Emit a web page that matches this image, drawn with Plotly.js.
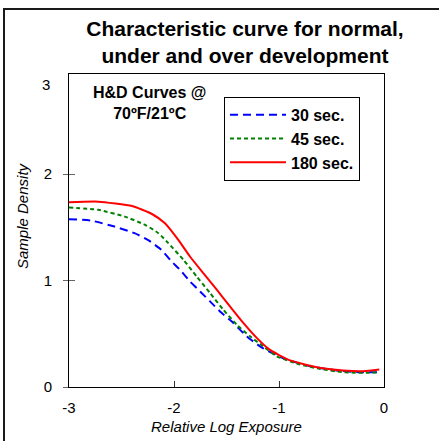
<!DOCTYPE html>
<html>
<head>
<meta charset="utf-8">
<script src="https://cdn.plot.ly/plotly-3.0.1.min.js"></script>
<style>html,body{margin:0;padding:0;background:#fff;}#chart{width:439px;height:441px;}</style>
</head>
<body>
<div id="chart"></div>
<script>
// Data
const seriesNames = ["30 sec.", "45 sec.", "180 sec."];

const x30 = [-3, -2.79, -2.567, -2.376, -2.249, -2.121, -2.022, -1.943, -1.848, -1.752, -1.657, -1.562, -1.435, -1.308, -1.181, -1.102, -0.927, -0.705, -0.45, -0.229, -0.045];
const y30 = [1.576, 1.563, 1.507, 1.445, 1.382, 1.289, 1.179, 1.101, 0.992, 0.898, 0.804, 0.71, 0.602, 0.476, 0.382, 0.336, 0.258, 0.195, 0.155, 0.139, 0.139];

const x45 = [-3, -2.72, -2.467, -2.276, -2.149, -2.054, -1.911, -1.784, -1.657, -1.53, -1.403, -1.276, -1.15, -1.022, -0.831, -0.61, -0.387, -0.165, -0.045];
const y45 = [1.685, 1.664, 1.60, 1.523, 1.445, 1.351, 1.195, 1.038, 0.883, 0.726, 0.586, 0.476, 0.382, 0.289, 0.22, 0.17, 0.139, 0.133, 0.139];

const x180 = [-3, -2.72, -2.40, -2.21, -2.086, -2.006, -1.959, -1.848, -1.721, -1.593, -1.467, -1.34, -1.212, -1.102, -1.0, -0.895, -0.641, -0.387, -0.197, -0.045];
const y180 = [1.736, 1.741, 1.70, 1.625, 1.538, 1.444, 1.382, 1.226, 1.07, 0.914, 0.757, 0.602, 0.461, 0.36, 0.30, 0.25, 0.186, 0.155, 0.148, 0.164];

const xTickVals = [-3, -2, -1, 0];
const xTickText = ["-3", "-2", "-1", "0"];
const yTickVals = [0, 1, 2];
const yTickText = ["0", "1", "2"];
const yTopLabel = "3";

const chartTitle = "Characteristic curve for normal,<br>under and over development";
const noteText = "H&D Curves @<br>70ºF/21ºC";
const xTitle = "Relative Log Exposure";
const yTitle = "Sample Density";

const FONT = "Liberation Sans, Arial, Helvetica, sans-serif";

const traces = [
  {x: x30, y: y30, name: seriesNames[0], mode: "lines", legendgroup: "a",
   line: {color: "#0000ff", width: 2, dash: "8px,5px", shape: "spline", smoothing: 0.5}},
  {x: x45, y: y45, name: seriesNames[1], mode: "lines", legendgroup: "b",
   line: {color: "#008000", width: 2, dash: "4px,3px", shape: "spline", smoothing: 0.5}},
  {x: x180, y: y180, name: seriesNames[2], mode: "lines", legendgroup: "c",
   line: {color: "#ff0000", width: 2, shape: "spline", smoothing: 0.5}},
  // invisible trace to activate overlay axis for inner tick marks
  {x: [-3], y: [0], yaxis: "y2", mode: "markers", marker: {opacity: 0}, showlegend: false, hoverinfo: "skip"}
];

const layout = {
  width: 439, height: 441,
  margin: {l: 69, r: 55, t: 74, b: 54},
  paper_bgcolor: "#ffffff", plot_bgcolor: "#ffffff",
  font: {family: FONT, color: "#000000", size: 15},
  showlegend: true,
  title: {
    text: "<b>" + chartTitle + "</b>",
    font: {family: FONT, size: 21, color: "#000000"},
    xref: "container", x: 0.558, xanchor: "center",
    yref: "container", y: 0.918, yanchor: "top"
  },
  xaxis: {
    range: [-3, 0], showgrid: false, zeroline: false,
    showline: true, linecolor: "#000000", linewidth: 1, mirror: true,
    tickmode: "array", tickvals: xTickVals, ticktext: xTickText,
    ticks: "inside", ticklen: 6, tickcolor: "#333333",
    ticklabelstandoff: 7,
    tickfont: {family: FONT, size: 15, color: "#000000"},
    title: {text: "<i>" + xTitle + "</i>", font: {family: FONT, size: 15, color: "#000000"}, standoff: 6}
  },
  yaxis: {
    range: [0, 2.94], showgrid: false, zeroline: false,
    showline: true, linecolor: "#000000", linewidth: 1, mirror: true,
    tickmode: "array", tickvals: yTickVals, ticktext: yTickText,
    ticks: "outside", ticklen: 5, tickcolor: "#666666",
    ticklabelstandoff: 8,
    tickfont: {family: FONT, size: 15, color: "#000000"}
  },
  yaxis2: {
    overlaying: "y", range: [0, 2.94], showgrid: false, zeroline: false,
    showline: false, tickmode: "array", tickvals: [1, 2],
    ticks: "inside", ticklen: 6, tickcolor: "#666666",
    showticklabels: false
  },
  legend: {
    x: 0.492, y: 0.927, xanchor: "left", yanchor: "top",
    bgcolor: "#ffffff", bordercolor: "#000000", borderwidth: 1,
    font: {family: FONT, size: 16, color: "#000000", weight: "bold"},
    traceorder: "grouped", tracegroupgap: 0,
    itemwidth: 56
  },
  annotations: [
    {text: "<b>" + noteText + "</b>", xref: "paper", yref: "paper",
     x: (149 - 69) / 315, y: (387 - 103) / 313, xanchor: "center", yanchor: "middle",
     showarrow: false, align: "center",
     font: {family: FONT, size: 16, color: "#000000"}},
    {text: yTopLabel, xref: "paper", yref: "paper", x: 0, y: 1,
     xanchor: "right", yanchor: "top", xshift: -17, yshift: 0, showarrow: false,
     font: {family: FONT, size: 15, color: "#000000"}},
    {text: "<i>" + yTitle + "</i>", xref: "paper", yref: "paper",
     x: (22 - 69) / 315, y: (387 - 216) / 313, xanchor: "center", yanchor: "middle",
     textangle: -90, showarrow: false,
     font: {family: FONT, size: 15, color: "#000000"}}
  ],
  shapes: [
    {type: "rect", xref: "paper", yref: "paper",
     x0: (4 - 69) / 315, x1: 1.6, y0: -0.6, y1: (387 - 9) / 313,
     line: {color: "#1a1a1a", width: 2}, fillcolor: "rgba(0,0,0,0)", layer: "below"}
  ]
};

Plotly.newPlot("chart", traces, layout, {displayModeBar: false, staticPlot: true});
</script>
</body>
</html>
